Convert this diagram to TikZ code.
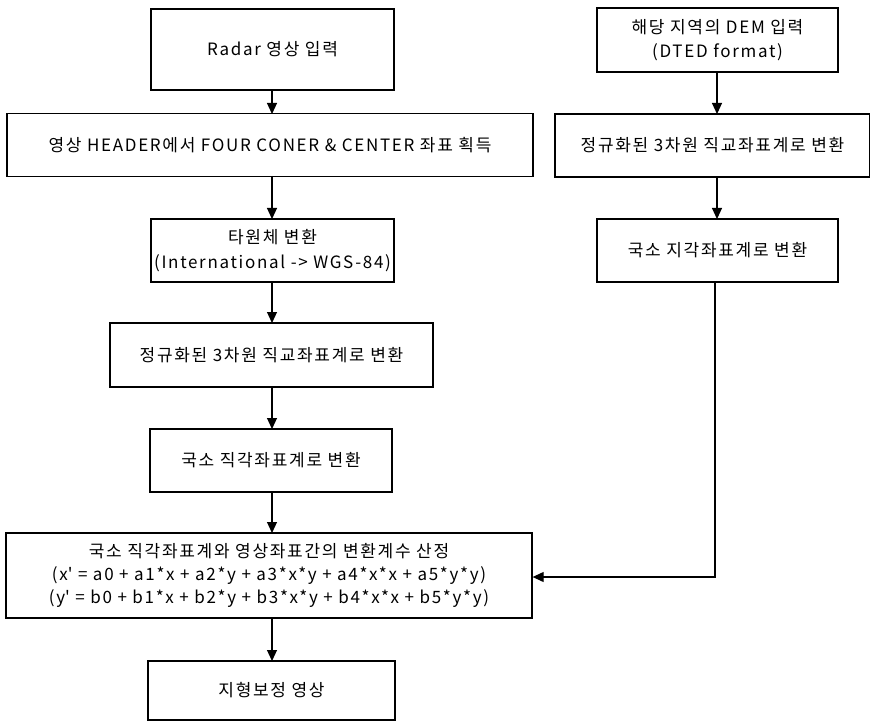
\documentclass[tikz,border=0pt]{standalone}
\usepackage{fontspec}
\setmainfont{Noto Sans CJK KR}[LetterSpace=10]
\usetikzlibrary{arrows.meta}
\tikzset{
  box/.style={draw, line width=1.3pt, minimum width=#1, inner sep=0pt, align=center, font=\fontsize{17}{24.5}\selectfont},
  arr/.style={line width=1.1pt, -{Triangle[length=11pt,width=10pt]}},
}
\begin{document}
\begin{tikzpicture}[x=1pt,y=-1pt]
\useasboundingbox (0,0) rectangle (870,722);
\node[box=243pt, minimum height=81pt] (radar) at (272.5,49.5) {Radar 영상 입력};
\node[box=526pt, minimum height=63pt] (header) at (270,145) {영상 HEADER에서 FOUR CONER \& CENTER 좌표 획득};
\node[box=243pt, minimum height=63pt] (ellip) at (272.5,250.5) {타원체 변환\\(International -> WGS-84)};
\node[box=323pt, minimum height=64pt] (norm1) at (271.5,355) {정규화된 3차원 직교좌표계로 변환};
\node[box=242pt, minimum height=63pt] (loc1) at (271,460.5) {국소 직각좌표계로 변환};
\node[box=526pt, minimum height=85pt, font=\fontsize{17}{23}\selectfont] (big) at (269,575.5) {국소 직각좌표계와 영상좌표간의 변환계수 산정\\(x\textquotesingle{} = a0 + a1*x + a2*y + a3*x*y + a4*x*x + a5*y*y)\\(y\textquotesingle{} = b0 + b1*x + b2*y + b3*x*y + b4*x*x + b5*y*y)};
\node[box=247pt, minimum height=59pt] (final) at (271.5,690.5) {지형보정 영상};
\node[box=241pt, minimum height=64pt] (dem) at (717.5,40) {해당 지역의 DEM 입력\\(DTED format)};
\node[box=315pt, minimum height=63pt] (norm2) at (712.5,145.5) {정규화된 3차원 직교좌표계로 변환};
\node[box=241pt, minimum height=63pt] (loc2) at (717.5,250.5) {국소 지각좌표계로 변환};
\coordinate (turn) at (715,577);
\draw[arr] (272,90) -- (272,114);
\draw[arr] (272,176) -- (272,219);
\draw[arr] (272,282) -- (272,323);
\draw[arr] (272,387) -- (272,429);
\draw[arr] (272,492) -- (272,533);
\draw[arr] (272,618) -- (272,661);
\draw[arr] (717,72) -- (717,114);
\draw[arr] (717,177) -- (717,219);
\draw[arr] (loc2.south -| turn) -- (turn) -- (big.east |- turn);
\end{tikzpicture}
\end{document}
